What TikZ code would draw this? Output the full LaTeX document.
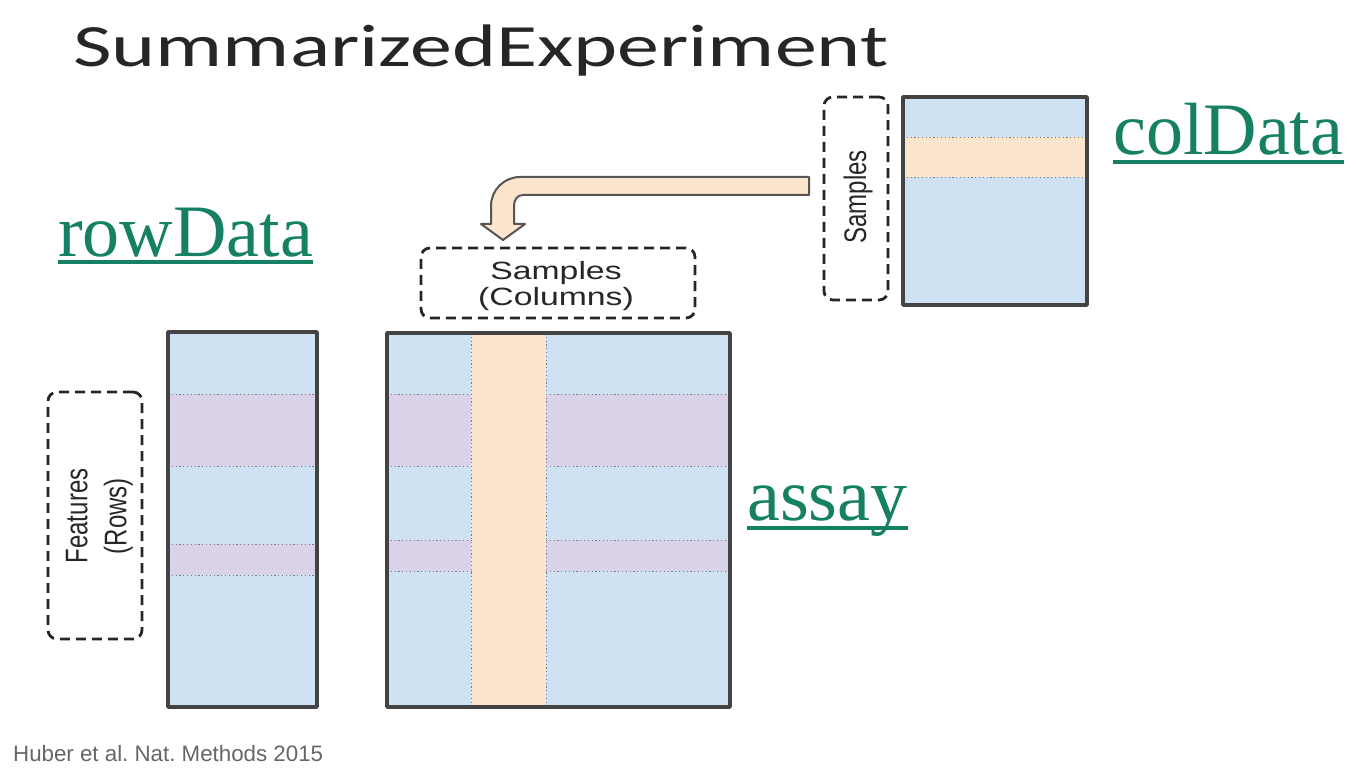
\documentclass[tikz,border=0pt]{standalone}
\usepackage{fontspec}
\setmainfont{Liberation Serif}
\setsansfont{Liberation Sans}
\newfontfamily\titlefont{Carlito}
\usepackage{graphicx}
\usetikzlibrary{calc}

\definecolor{cellblue}{HTML}{CFE2F3}
\definecolor{cellpurple}{HTML}{D9D2E9}
\definecolor{cellpeach}{HTML}{FCE5CD}
\definecolor{framegrey}{HTML}{434343}
\definecolor{dotgrey}{HTML}{7A7A7A}
\definecolor{linkgreen}{RGB}{22,128,98}
\definecolor{citegrey}{HTML}{666666}
\definecolor{arrowline}{HTML}{555555}

\tikzset{
  tablebg/.style={fill=cellblue, draw=none, inner sep=0pt, outer sep=0pt},
  tableframe/.style={draw=framegrey, line width=3.5pt, line join=round},
  featband/.style={fill=cellpurple},
  sampband/.style={fill=cellpeach},
  dotline/.style={draw=dotgrey, line width=0.9pt, dash pattern=on 1.2pt off 2.6pt},
  dashbox/.style={draw=black!85, line width=2.8pt, dash pattern=on 10pt off 6pt,
                  rounded corners=9pt, inner sep=0pt},
  boxlabel/.style={font=\sffamily\fontsize{25}{26}\selectfont, text=black!85, align=center},
  link/.style={font=\fontsize{74}{80}\selectfont, text=linkgreen, inner sep=0pt, anchor=base west},
  linkrule/.style={draw=linkgreen, line width=4pt},
  fatarrow/.style={fill=cellpeach, draw=arrowline, line width=2pt, line join=round},
}

\begin{document}
\frenchspacing
\begin{tikzpicture}[x=1pt, y=-1pt]
  \fill[white] (0,0) rectangle (1357,778);
  \useasboundingbox (0,0) rectangle (1357,778);

  % title and citation
  \node[anchor=base west, inner sep=0pt, font=\titlefont\fontsize{60}{70}\selectfont, text=black!85]
    (title) at (73,67) {\scalebox{1.40}[1]{SummarizedExperiment}};
  \node[anchor=base west, inner sep=0pt, font=\sffamily\fontsize{22.3}{26}\selectfont, text=citegrey]
    (cite) at (13,761) {Huber et al. Nat. Methods 2015};

  % ---------- colData table ----------
  \node[tablebg, minimum width=184pt, minimum height=208pt] (coltab) at (995,201) {};
  \fill[sampband] (903,137) rectangle (1087,177);
  \draw[dotline] (903,137) -- (1087,137) (903,177) -- (1087,177);
  \draw[tableframe] (coltab.north west) rectangle (coltab.south east);

  \node[dashbox, minimum width=64pt, minimum height=203pt] (colsamples) at (856,198.5) {};
  \node[inner sep=0pt] (colsamplestxt) at (858,197)
    {\rotatebox{90}{\scalebox{1}[1.3]{\sffamily\fontsize{24}{28}\selectfont\color{black!85}Samples}}};

  % ---------- rowData table ----------
  \node[tablebg, minimum width=149pt, minimum height=375pt] (rowtab) at (242.5,519.5) {};
  \fill[featband] (168,394) rectangle (317,466);
  \fill[featband] (168,544) rectangle (317,575);
  \draw[dotline] (168,394) -- (317,394) (168,466) -- (317,466)
                 (168,544) -- (317,544) (168,575) -- (317,575);
  \draw[tableframe] (rowtab.north west) rectangle (rowtab.south east);

  \node[dashbox, minimum width=94pt, minimum height=247pt] (features) at (95,515.5) {};
  \node[inner sep=0pt] (featurestxt) at (99,516)
    {\rotatebox{90}{\scalebox{1}[1.3]{\sffamily\fontsize{24}{30}\selectfont\color{black!85}%
      \begin{tabular}{@{}c@{}}Features\\(Rows)\end{tabular}}}};

  % ---------- assay table ----------
  \node[tablebg, minimum width=343pt, minimum height=374pt] (assaytab) at (558.5,520) {};
  \fill[featband] (387,394) rectangle (730,466);
  \fill[featband] (387,540) rectangle (730,571);
  \fill[sampband] (471,333) rectangle (546,707);
  \draw[dotline] (387,394) -- (471,394) (546,394) -- (730,394)
                 (387,466) -- (471,466) (546,466) -- (730,466)
                 (387,540) -- (471,540) (546,540) -- (730,540)
                 (387,571) -- (471,571) (546,571) -- (730,571)
                 (471,333) -- (471,707) (546,333) -- (546,707);
  \draw[tableframe] (assaytab.north west) rectangle (assaytab.south east);

  \node[dashbox, minimum width=274pt, minimum height=70pt] (colhead) at (558,283) {};
  \node[boxlabel, inner sep=0pt] (colheadtxt) at (556,287)
    {\scalebox{1.35}[1]{\begin{tabular}{@{}c@{}}Samples\\(Columns)\end{tabular}}};

  % ---------- bent arrow from colData samples to assay columns ----------
  \coordinate (arrowtail) at (809,186);
  \coordinate (arrowtip) at (503,240);
  \draw[fatarrow] (809,177) -- (520,177)
    .. controls (504,177) and (491,190) .. (491,206)
    -- (491,224) -- (481,224) -- (arrowtip) -- (525,224) -- (514,224) -- (514,206)
    .. controls (514,200) and (517,195) .. (523,195)
    -- (809,195) -- cycle;

  % ---------- slot names ----------
  \node[link] (rowdata) at (58,256) {rowData};
  \draw[linkrule] ([yshift=-6pt]rowdata.base west) -- ([yshift=-6pt]rowdata.base east);
  \node[link] (coldata) at (1113,155) {colData};
  \draw[linkrule] ([yshift=-7pt]coldata.base west) -- ([yshift=-7pt]coldata.base east);
  \node[link] (assay) at (747,520) {assay};
  \draw[linkrule] ([yshift=-8pt]assay.base west) -- ([yshift=-8pt]assay.base east);
\end{tikzpicture}
\end{document}
